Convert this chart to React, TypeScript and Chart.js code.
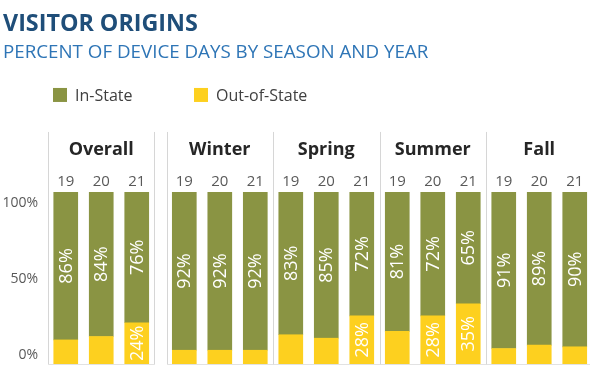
import React, { useEffect, useRef } from 'react';
import { Chart, registerables } from 'chart.js';

Chart.register(...registerables);

// ---- data ----
const PANELS = ['Overall', 'Winter', 'Spring', 'Summer', 'Fall'];
const YEARS = ['19', '20', '21'];
const IN_STATE = [86, 84, 76, 92, 92, 92, 83, 85, 72, 81, 72, 65, 91, 89, 90];
const OUT_STATE = [14, 16, 24, 8, 8, 8, 17, 15, 28, 19, 28, 35, 9, 11, 10];
const Y_TICKS = [0, 50, 100];
const SERIES = ['In-State', 'Out-of-State'];

// ---- styles ----
const GREEN = '#8a9443';
const YELLOW = '#fdd01f';
const FONT = 'Open Sans';
const GAP = 0.34; // extra space between Overall and the seasons
const MIN_OUT_LABEL = 20;

const xPos = (p: number, k: number) => p * 3 + k + (p > 0 ? GAP : 0);
const idxX = (i: number) => xPos(Math.floor(i / 3), i % 3);
const X_MIN = -0.5;
const X_MAX = 14.77;

const noPadX = (s: any) => {
  s.paddingLeft = 0;
  s.paddingRight = 0;
};

const decorPlugin = {
  id: 'decor',
  beforeDatasetsDraw(chart: any) {
    const { ctx, chartArea } = chart;
    const sx = chart.scales.x;
    const top = chart.scales.x2.top;
    ctx.save();
    ctx.lineWidth = 1;
    PANELS.forEach((_, p) => {
      const l = Math.round(sx.getPixelForValue(xPos(p, 0) - 0.5)) + 0.5;
      const r = Math.round(sx.getPixelForValue(xPos(p, 2) + 0.5)) + 0.5;
      const b = Math.round(chartArea.bottom) + 0.5;
      ctx.strokeStyle = '#e2e2e2';
      ctx.beginPath();
      ctx.moveTo(l, b);
      ctx.lineTo(r, b);
      ctx.stroke();
      ctx.strokeStyle = '#d6d6d6';
      ctx.beginPath();
      ctx.moveTo(l, top);
      ctx.lineTo(l, b);
      ctx.moveTo(r, top);
      ctx.lineTo(r, b);
      ctx.stroke();
    });
    // legend
    const legendY = top - 44;
    const items = [
      { text: SERIES[0], color: GREEN, x: 53 },
      { text: SERIES[1], color: YELLOW, x: 194 },
    ];
    ctx.font = `16px "${FONT}"`;
    ctx.textBaseline = 'middle';
    ctx.textAlign = 'left';
    items.forEach((it) => {
      ctx.fillStyle = it.color;
      ctx.fillRect(it.x, legendY, 14, 14);
      ctx.fillStyle = '#404040';
      ctx.fillText(it.text, it.x + 22, legendY + 8);
    });
    ctx.restore();
  },
  afterDatasetsDraw(chart: any) {
    const { ctx } = chart;
    ctx.save();
    ctx.fillStyle = '#ffffff';
    ctx.font = `18px "${FONT}"`;
    ctx.textAlign = 'center';
    ctx.textBaseline = 'middle';
    chart.data.datasets.forEach((ds: any, di: number) => {
      const meta = chart.getDatasetMeta(di);
      meta.data.forEach((el: any, i: number) => {
        const v = ds.data[i].y;
        if (ds.label === SERIES[1] && v < MIN_OUT_LABEL) return;
        const cy = (el.y + el.base) / 2;
        ctx.save();
        ctx.translate(el.x, cy);
        ctx.rotate(-Math.PI / 2);
        ctx.fillText(`${v}%`, 0, 1);
        ctx.restore();
      });
    });
    ctx.restore();
  },
};

export default function App() {
  const ref = useRef<HTMLCanvasElement | null>(null);

  useEffect(() => {
    if (!ref.current) return;
    const chart = new Chart(ref.current, {
      type: 'bar',
      data: {
        datasets: [
          {
            label: SERIES[1],
            data: OUT_STATE.map((v, i) => ({ x: idxX(i), y: v })),
            backgroundColor: YELLOW,
            barThickness: 24,
          },
          {
            label: SERIES[0],
            data: IN_STATE.map((v, i) => ({ x: idxX(i), y: v })),
            backgroundColor: GREEN,
            barThickness: 24,
          },
        ],
      },
      options: {
        responsive: false,
        animation: false,
        layout: { padding: { left: 3, right: 0, top: 0, bottom: 11 } },
        plugins: {
          legend: { display: false },
          tooltip: { enabled: false },
          title: {
            display: true,
            text: 'VISITOR ORIGINS',
            align: 'start',
            color: '#1f4e79',
            font: { family: FONT, size: 23.3, weight: 'bold', lineHeight: 1.2 },
            padding: { top: 10.2, bottom: 0 },
          },
          subtitle: {
            display: true,
            text: 'PERCENT OF DEVICE DAYS BY SEASON AND YEAR',
            align: 'start',
            color: '#2e75b6',
            font: { family: FONT, size: 18.75, lineHeight: 1.2 },
            padding: { top: 3.2, bottom: 68.1 },
          },
        },
        scales: {
          x: {
            type: 'linear',
            axis: 'x',
            position: 'top',
            weight: 0,
            offset: false,
            min: X_MIN,
            max: X_MAX,
            stacked: true,
            afterBuildTicks: (s: any) => {
              s.ticks = IN_STATE.map((_, i) => ({ value: idxX(i) }));
            },
            afterFit: (s: any) => {
              s.height = 22;
              noPadX(s);
            },
            ticks: {
              autoSkip: false,
              maxRotation: 0,
              padding: 1.5,
              color: '#595959',
              font: { family: FONT, size: 15 },
              callback: (_v: any, i: number) => YEARS[i % 3],
            },
            grid: { display: false, drawTicks: false, offset: false },
            border: { display: false },
          },
          x2: {
            type: 'linear',
            axis: 'x',
            position: 'top',
            weight: 1,
            offset: false,
            min: X_MIN,
            max: X_MAX,
            afterBuildTicks: (s: any) => {
              s.ticks = PANELS.map((_, p) => ({ value: xPos(p, 1) }));
            },
            afterFit: (s: any) => {
              s.height = 38;
              noPadX(s);
            },
            ticks: {
              autoSkip: false,
              maxRotation: 0,
              padding: 8.9,
              color: '#262626',
              font: { family: FONT, size: 18, weight: 'bold' },
              callback: (_v: any, i: number) => PANELS[i],
            },
            grid: { display: false, drawTicks: false, offset: false },
            border: { display: false },
          },
          y: {
            type: 'linear',
            display: false,
            min: 0,
            max: 100,
            stacked: true,
          },
          yl: {
            type: 'linear',
            axis: 'y',
            position: 'left',
            min: -5.9,
            max: 107.2,
            afterBuildTicks: (s: any) => {
              s.ticks = Y_TICKS.map((v) => ({ value: v }));
            },
            afterFit: (s: any) => {
              s.width = 45;
              s.paddingTop = 0;
              s.paddingBottom = 0;
            },
            ticks: {
              padding: 10,
              color: '#595959',
              font: { family: FONT, size: 14 },
              callback: (v: any) => `${v}%`,
            },
            grid: { display: false, drawTicks: false },
            border: { display: false },
          },
        },
      },
      plugins: [decorPlugin],
    } as any);
    return () => chart.destroy();
  }, []);

  return (
    <div style={{ position: 'fixed', left: 0, top: 0, width: 590, height: 375, background: '#fff' }}>
      <canvas ref={ref} width={590} height={375} />
    </div>
  );
}
